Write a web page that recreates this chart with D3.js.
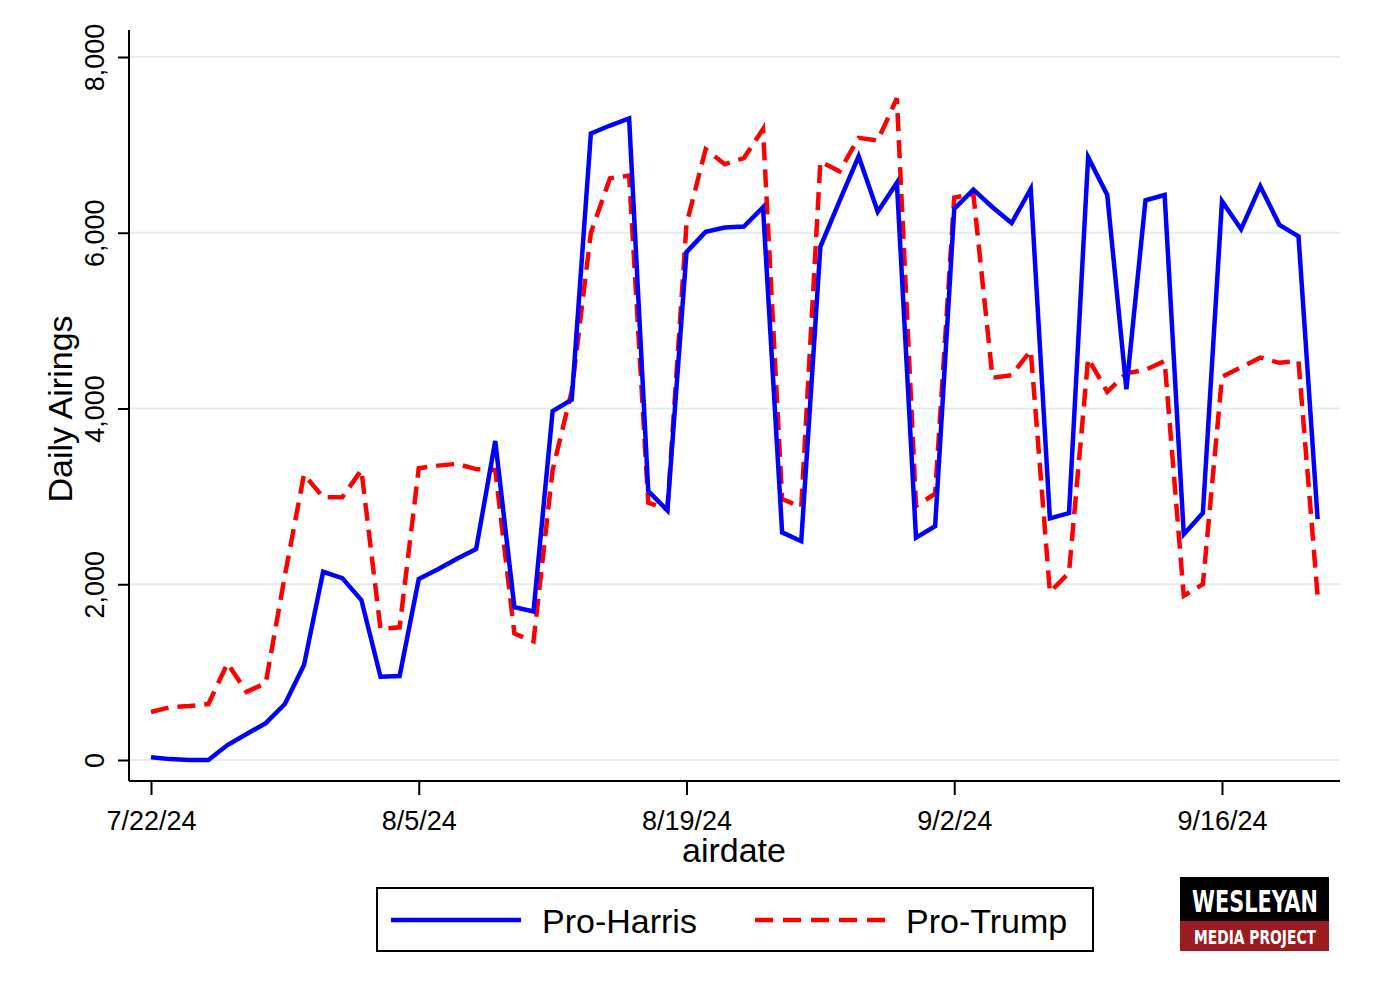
<!DOCTYPE html>
<html>
<head>
<meta charset="utf-8">
<script src="https://cdn.jsdelivr.net/npm/d3@7"></script>
<style>
  body { margin: 0; background: #fff; }
  svg { display: block; font-family: "Liberation Sans", Arial, sans-serif; }
</style>
</head>
<body>
<div id="chart"></div>
<script>
// daily airings, 7/22/24 through 9/21/24
const firstDay = new Date(2024, 6, 22);
const lastDay = new Date(2024, 8, 21);
const dates = d3.timeDay.range(firstDay, d3.timeDay.offset(lastDay, 1));

const proHarris = [
  30, 10, 0, 0, 170, 296, 420, 637, 1080, 2142, 2070, 1820, 948, 956,
  2060, 2170, 2290, 2400, 3630, 1740, 1690, 3970, 4100, 7130, 7220, 7300, 3060, 2840,
  5780, 6010, 6060, 6070, 6290, 2590, 2490, 5840, 6360, 6870, 6240, 6570, 2530, 2660,
  6270, 6490, 6290, 6110, 6500, 2750, 2810, 6860, 6430, 4220, 6370, 6430, 2570, 2810,
  6360, 6040, 6530, 6090, 5960, 2740
];
const proTrump = [
  546, 600, 614, 637, 1100, 775, 875, 2100, 3250, 2990, 2990, 3300, 1490, 1510,
  3320, 3350, 3370, 3310, 3300, 1440, 1350, 3300, 4200, 6000, 6620, 6650, 2930, 2850,
  6100, 6950, 6780, 6850, 7180, 2970, 2880, 6810, 6700, 7080, 7050, 7530, 2890, 3030,
  6400, 6440, 4350, 4380, 4660, 1910, 2130, 4570, 4190, 4400, 4440, 4540, 1870, 2000,
  4360, 4470, 4580, 4520, 4540, 1860
];

const xTickDates = [new Date(2024, 6, 22), new Date(2024, 7, 5), new Date(2024, 7, 19), new Date(2024, 8, 2), new Date(2024, 8, 16)];
const xTickLabels = ["7/22/24", "8/5/24", "8/19/24", "9/2/24", "9/16/24"];
const yTicks = [0, 2000, 4000, 6000, 8000];

const width = 1376;
const height = 1000;

const svg = d3.select("#chart")
  .append("svg")
  .attr("width", width)
  .attr("height", height);

svg.append("rect").attr("width", width).attr("height", height).attr("fill", "#fff");

// plot frame
const plotLeft = 129, plotRight = 1340, plotTop = 30, plotBottom = 781;

const xScale = d3.scaleTime()
  .domain([xTickDates[0], xTickDates[4]])
  .range([151, 1222]);
const yScale = d3.scaleLinear()
  .domain([0, 8000])
  .range([760, 57]);

// gridlines
svg.append("g")
  .selectAll("line")
  .data(yTicks)
  .join("line")
  .attr("x1", plotLeft)
  .attr("x2", plotRight)
  .attr("y1", d => yScale(d))
  .attr("y2", d => yScale(d))
  .attr("stroke", "#e3edef")
  .attr("stroke-width", 2);

// y axis
const yAxis = svg.append("g")
  .attr("transform", `translate(${plotLeft},0)`)
  .call(d3.axisLeft(yScale).tickValues(yTicks).tickFormat(d3.format(",")).tickSize(11).tickPadding(0));
yAxis.select(".domain").attr("d", `M0,${plotTop}V${plotBottom}`).attr("stroke", "#000").attr("stroke-width", 2);
yAxis.selectAll(".tick line").attr("stroke", "#000").attr("stroke-width", 2);
yAxis.selectAll(".tick text")
  .attr("x", null).attr("dy", null)
  .attr("transform", "translate(-25,0) rotate(-90)")
  .attr("text-anchor", "middle")
  .attr("font-size", 27)
  .attr("font-family", "Liberation Sans, Arial, sans-serif")
  .attr("fill", "#000");

// x axis
const xAxis = svg.append("g")
  .attr("transform", `translate(0,${plotBottom})`)
  .call(d3.axisBottom(xScale).tickValues(xTickDates).tickFormat((d, i) => xTickLabels[i]).tickSize(14).tickPadding(16));
xAxis.select(".domain").attr("d", `M${plotLeft},0H${plotRight}`).attr("stroke", "#000").attr("stroke-width", 2);
xAxis.selectAll(".tick line").attr("stroke", "#000").attr("stroke-width", 2);
xAxis.selectAll(".tick text")
  .attr("font-size", 27)
  .attr("font-family", "Liberation Sans, Arial, sans-serif")
  .attr("fill", "#000");

// axis titles
svg.append("text")
  .attr("x", 734)
  .attr("y", 862)
  .attr("text-anchor", "middle")
  .attr("font-size", 34)
  .text("airdate");

svg.append("text")
  .attr("transform", `translate(72,409) rotate(-90)`)
  .attr("text-anchor", "middle")
  .attr("font-size", 34)
  .text("Daily Airings");

// lines
const line = d3.line()
  .x((d, i) => xScale(dates[i]))
  .y(d => yScale(d));

svg.append("path")
  .datum(proTrump)
  .attr("fill", "none")
  .attr("stroke", "#ff0000")
  .attr("stroke-width", 4.5)
  .attr("stroke-dasharray", "18,9")
  .attr("d", line);

svg.append("path")
  .datum(proHarris)
  .attr("fill", "none")
  .attr("stroke", "#0000ff")
  .attr("stroke-width", 4.5)
  .attr("d", line);

// legend
const legend = svg.append("g");
legend.append("rect")
  .attr("x", 377).attr("y", 888)
  .attr("width", 716).attr("height", 63)
  .attr("fill", "#fff").attr("stroke", "#000").attr("stroke-width", 2);
legend.append("line")
  .attr("x1", 391).attr("x2", 521).attr("y1", 920).attr("y2", 920)
  .attr("stroke", "#0000ff").attr("stroke-width", 4.5);
legend.append("text")
  .attr("x", 542).attr("y", 933)
  .attr("font-size", 34)
  .text("Pro-Harris");
legend.append("line")
  .attr("x1", 755).attr("x2", 885).attr("y1", 920).attr("y2", 920)
  .attr("stroke", "#ff0000").attr("stroke-width", 4.5)
  .attr("stroke-dasharray", "18,10");
legend.append("text")
  .attr("x", 906).attr("y", 933)
  .attr("font-size", 34)
  .text("Pro-Trump");

// logo
const logo = svg.append("g");
logo.append("rect").attr("x", 1180).attr("y", 877).attr("width", 149).attr("height", 44).attr("fill", "#000");
logo.append("rect").attr("x", 1180).attr("y", 921).attr("width", 149).attr("height", 30).attr("fill", "#9b1c20");
logo.append("text")
  .attr("x", 1192).attr("y", 912)
  .attr("font-size", 31).attr("font-weight", "bold")
  .attr("font-family", "DejaVu Sans Condensed, DejaVu Sans, sans-serif")
  .attr("textLength", 126).attr("lengthAdjust", "spacingAndGlyphs")
  .attr("fill", "#fff")
  .text("WESLEYAN");
logo.append("text")
  .attr("x", 1194).attr("y", 944)
  .attr("font-size", 19).attr("font-weight", "bold")
  .attr("font-family", "DejaVu Sans Condensed, DejaVu Sans, sans-serif")
  .attr("textLength", 122).attr("lengthAdjust", "spacingAndGlyphs")
  .attr("fill", "#fff")
  .text("MEDIA PROJECT");
</script>
</body>
</html>
